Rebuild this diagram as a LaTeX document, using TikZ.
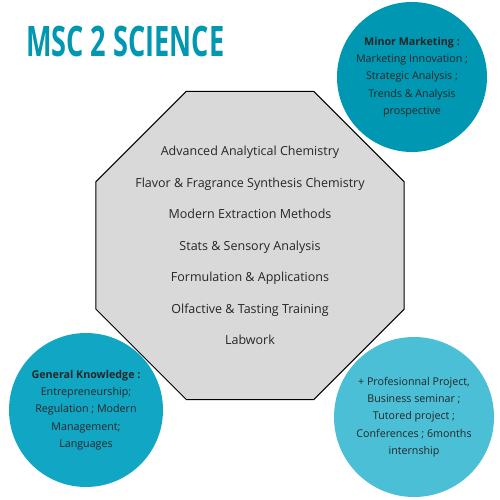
\documentclass[tikz,border=0pt]{standalone}
\usepackage{fontspec}
\setmainfont{Open Sans}
\usetikzlibrary{shapes.geometric}

\definecolor{titleblue}{HTML}{0097B2}
\definecolor{minorblue}{HTML}{0097B2}
\definecolor{generalblue}{HTML}{10A6C4}
\definecolor{projectblue}{HTML}{4BBFD6}
\definecolor{octgray}{HTML}{D9D9D9}

\begin{document}
\begin{tikzpicture}[x=1pt,y=1pt,
    blob/.style={circle,inner sep=0pt,align=center,text=black!85,
      font=\fontsize{10.7}{17.3}\selectfont}]
    % page
    \fill[white] (0,0) rectangle (500,500);
    \useasboundingbox (0,0) rectangle (500,500);
    % title
    \node[anchor=base west,inner sep=0pt,text=titleblue,
      font=\bfseries\fontsize{42}{42}\selectfont] (title) at (26,443)
      {\scalebox{0.645}[1]{MSC 2 SCIENCE}};
    % the three circles
    \node[blob,fill=minorblue,minimum size=150pt] (minor) at (412,423)
      {\textbf{Minor Marketing :}\\Marketing Innovation ;\\Strategic Analysis ;\\Trends \& Analysis\\prospective};
    \node[blob,fill=generalblue,minimum size=154pt] (general) at (86,90)
      {\textbf{General Knowledge :}\\Entrepreneurship;\\Regulation ; Modern\\Management;\\Languages};
    \node[blob,fill=projectblue,minimum size=160pt] (project) at (414,83)
      {+ Profesionnal Project,\\Business seminar ;\\Tutored project ;\\Conferences ; 6months\\internship};
    % central octagon and its list
    \node[regular polygon,regular polygon sides=8,minimum size=333.4pt,inner sep=0pt,
      draw=black,line width=1pt,fill=octgray] (octagon) at (250,254.5) {};
    \node[align=center,text=black!85,font=\fontsize{12.5}{31.5}\selectfont] (courses) at (octagon.center)
      {Advanced Analytical Chemistry\\Flavor \& Fragrance Synthesis Chemistry\\Modern Extraction Methods\\Stats \& Sensory Analysis\\Formulation \& Applications\\Olfactive \& Tasting Training\\Labwork};
\end{tikzpicture}
\end{document}
